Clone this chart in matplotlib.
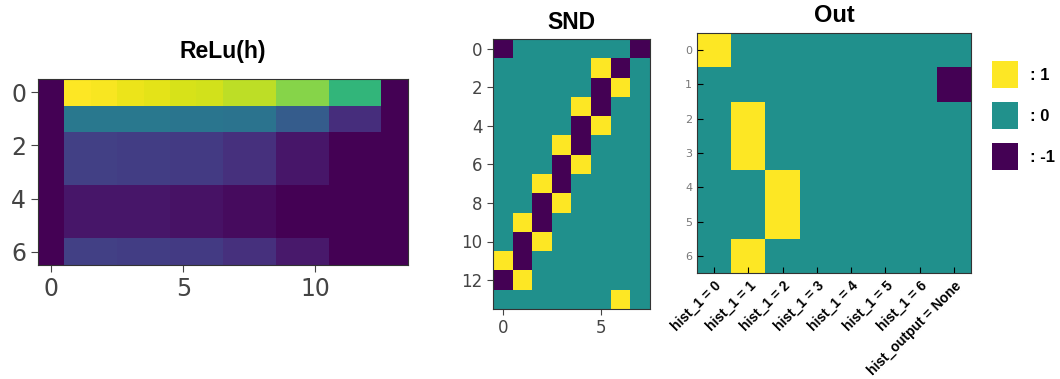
import matplotlib.pyplot as plt
import numpy as np
from matplotlib.patches import Patch

# ReLu(h): 7 filas x 14 columnas
relu_h = [
    [0, 1.00, 0.99, 0.97, 0.96, 0.94, 0.93, 0.90, 0.90, 0.82, 0.82, 0.66, 0.66, 0],
    [0, 0.40, 0.40, 0.40, 0.40, 0.39, 0.39, 0.38, 0.38, 0.29, 0.29, 0.13, 0.13, 0],
    [0, 0.19, 0.19, 0.18, 0.18, 0.17, 0.17, 0.14, 0.14, 0.06, 0.06, 0, 0, 0],
    [0, 0.19, 0.19, 0.18, 0.18, 0.17, 0.17, 0.14, 0.14, 0.06, 0.06, 0, 0, 0],
    [0, 0.06, 0.06, 0.06, 0.06, 0.05, 0.05, 0.03, 0.03, 0, 0, 0, 0, 0],
    [0, 0.06, 0.06, 0.06, 0.06, 0.05, 0.05, 0.03, 0.03, 0, 0, 0, 0, 0],
    [0, 0.19, 0.19, 0.18, 0.18, 0.17, 0.17, 0.14, 0.14, 0.07, 0.07, 0, 0, 0],
]

# SND: 14 filas x 8 columnas
snd = [
    [-1, 0, 0, 0, 0, 0, 0, -1],
    [0, 0, 0, 0, 0, 1, -1, 0],
    [0, 0, 0, 0, 0, -1, 1, 0],
    [0, 0, 0, 0, 1, -1, 0, 0],
    [0, 0, 0, 0, -1, 1, 0, 0],
    [0, 0, 0, 1, -1, 0, 0, 0],
    [0, 0, 0, -1, 1, 0, 0, 0],
    [0, 0, 1, -1, 0, 0, 0, 0],
    [0, 0, -1, 1, 0, 0, 0, 0],
    [0, 1, -1, 0, 0, 0, 0, 0],
    [0, -1, 1, 0, 0, 0, 0, 0],
    [1, -1, 0, 0, 0, 0, 0, 0],
    [-1, 1, 0, 0, 0, 0, 0, 0],
    [0, 0, 0, 0, 0, 0, 1, 0],
]

# Out: 7 filas x 8 columnas
out = [
    [1, 0, 0, 0, 0, 0, 0, 0],
    [0, 0, 0, 0, 0, 0, 0, -1],
    [0, 1, 0, 0, 0, 0, 0, 0],
    [0, 1, 0, 0, 0, 0, 0, 0],
    [0, 0, 1, 0, 0, 0, 0, 0],
    [0, 0, 1, 0, 0, 0, 0, 0],
    [0, 1, 0, 0, 0, 0, 0, 0],
]
out_labels = ["hist_1 = 0", "hist_1 = 1", "hist_1 = 2", "hist_1 = 3",
              "hist_1 = 4", "hist_1 = 5", "hist_1 = 6", "hist_output = None"]

leyenda_vals = [1, 0, -1]

W, H = 1060, 379
fig = plt.figure(figsize=(W / 100, H / 100), dpi=100)
titulo = dict(family="Liberation Sans", weight="bold")
gris = "#444444"

def caja(l, t, r, b):
    return [l / W, (H - b) / H, (r - l) / W, (b - t) / H]

# ReLu(h)
ax1 = fig.add_axes(caja(38, 79, 408, 265))
ax1.imshow(np.array(relu_h), cmap="viridis", vmin=0, vmax=1, aspect="auto", interpolation="nearest")
ax1.set_xticks([0, 5, 10])
ax1.set_yticks([0, 2, 4, 6])
ax1.tick_params(labelsize=17, colors=gris, length=5)
ax1.set_title("ReLu(h)", fontsize=16.5, pad=15, **titulo)
for s in ax1.spines.values():
    s.set_color("#333333")

# SND
ax2 = fig.add_axes(caja(493, 39, 650, 309))
ax2.imshow(np.array(snd), cmap="viridis", vmin=-1, vmax=1, aspect="auto", interpolation="nearest")
ax2.set_xticks([0, 5])
ax2.set_yticks(range(0, 14, 2))
ax2.tick_params(labelsize=12, colors=gris, length=4)
ax2.set_title("SND", fontsize=16.5, pad=7, **titulo)
for s in ax2.spines.values():
    s.set_color("#333333")

# Out
ax3 = fig.add_axes(caja(697, 33, 971, 273))
ax3.imshow(np.array(out), cmap="viridis", vmin=-1, vmax=1, aspect="auto", interpolation="nearest")
ax3.set_xticks(range(len(out_labels)))
ax3.set_xticklabels(out_labels, rotation=45, ha="right", rotation_mode="anchor",
                    fontsize=10, **titulo)
ax3.set_yticks(range(7))
ax3.tick_params(axis="y", labelsize=8, labelcolor="#777777", direction="in", length=4)
ax3.tick_params(axis="x", direction="in", length=4, pad=4)
ax3.set_title("Out", fontsize=17, pad=8, **titulo)
for s in ax3.spines.values():
    s.set_color("#333333")

# leyenda
cmap = plt.get_cmap("viridis")
handles = [Patch(facecolor=cmap((v + 1) / 2), edgecolor="none") for v in leyenda_vals]
labels = [": %d" % v for v in leyenda_vals]
fig.legend(handles, labels, loc="upper left", bbox_to_anchor=(977 / W, (H - 46) / H),
           frameon=False, prop=dict(family="Liberation Sans", weight="bold", size=12),
           handlelength=1.55, handleheight=2.1, labelspacing=0.85, handletextpad=0.75)

fig.savefig("out.png", dpi=100)
